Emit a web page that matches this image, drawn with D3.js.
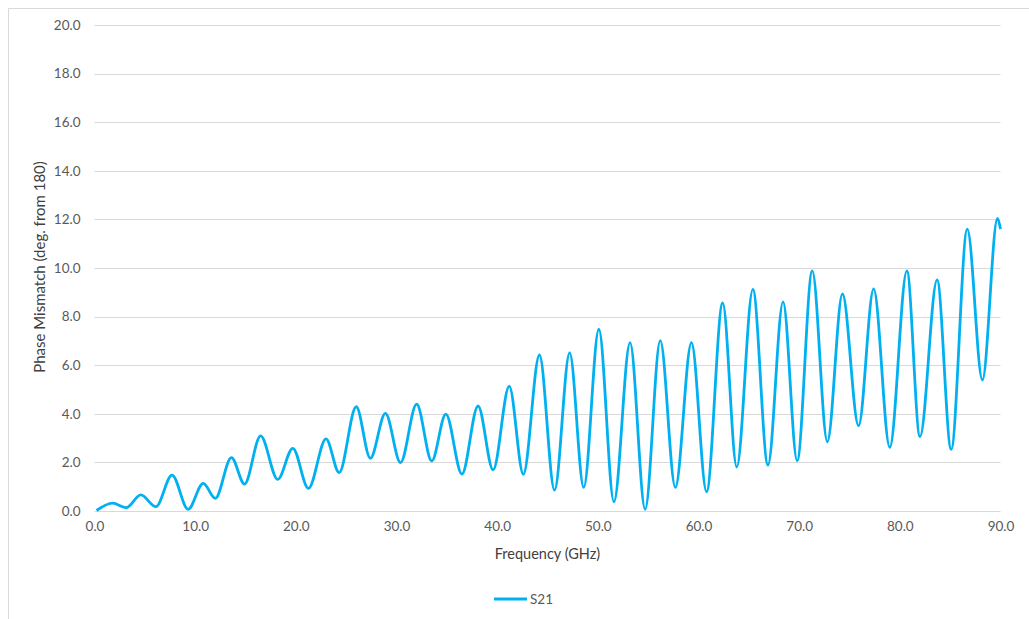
<!DOCTYPE html>
<meta charset="utf-8">
<html>
  <head>
    <script src="https://cdn.jsdelivr.net/npm/d3@7"></script>
    <style>
      body { margin: 0; background: #fff; }
      text { font-family: Lato, "Open Sans", sans-serif; }
    </style>
  </head>
  <body>
    <div id="chart"></div>

    <script type="text/javascript">
      // S21 phase mismatch at each ripple peak / trough
      var freqGHz = [0.2, 1.8, 3.15, 4.6, 6.1, 7.7, 9.3, 10.8, 12.0, 13.6, 14.9, 16.5, 18.2, 19.7, 21.25,
                     23.0, 24.3, 26.0, 27.4, 28.9, 30.4, 32.0, 33.5, 34.9, 36.5, 38.1, 39.6, 41.2, 42.6,
                     44.2, 45.7, 47.2, 48.6, 50.1, 51.6, 53.2, 54.7, 56.2, 57.7, 59.3, 60.8, 62.4, 63.8,
                     65.4, 66.9, 68.4, 69.8, 71.3, 72.8, 74.3, 75.9, 77.4, 79.0, 80.7, 82.0, 83.7, 85.1,
                     86.7, 88.2, 89.7, 90.0];
      var s21 = [0.02, 0.32, 0.14, 0.66, 0.18, 1.48, 0.07, 1.14, 0.52, 2.2, 1.11, 3.09, 1.30, 2.58, 0.93,
                 2.97, 1.58, 4.29, 2.17, 4.02, 1.99, 4.40, 2.06, 3.99, 1.52, 4.32, 1.69, 5.14, 1.51,
                 6.42, 0.86, 6.51, 0.97, 7.48, 0.38, 6.93, 0.07, 7.01, 0.97, 6.93, 0.79, 8.56, 1.81,
                 9.12, 1.89, 8.61, 2.07, 9.88, 2.85, 8.93, 3.51, 9.14, 2.62, 9.88, 3.06, 9.51, 2.54,
                 11.6, 5.39, 12.04, 11.6];
      var xTicks = [0, 10, 20, 30, 40, 50, 60, 70, 80, 90];
      var yTicks = [0, 2, 4, 6, 8, 10, 12, 14, 16, 18, 20];
      var seriesName = "S21";

      var data = freqGHz.map(function(f, i) { return { f: f, v: s21[i] }; });

      var W = 1029, H = 619;
      var plotLeft = 94.5, plotRight = 1000.5, plotTop = 25, plotBottom = 511;

      var svg = d3.select("#chart").append("svg")
          .attr("width", W)
          .attr("height", H);

      // chart frame (cropped on the right and bottom like the screenshot)
      svg.append("path")
          .attr("d", "M8.5," + H + "V8.5H" + W)
          .style("fill", "none")
          .style("stroke", "#d9d9d9")
          .style("stroke-width", 1);

      var x = d3.scaleLinear().domain([0, 90]).range([plotLeft, plotRight]);
      var y = d3.scaleLinear().domain([0, 20]).range([plotBottom, plotTop]);

      // gridlines
      svg.append("g")
          .selectAll("line")
          .data(yTicks)
          .enter().append("line")
            .attr("x1", plotLeft)
            .attr("x2", plotRight)
            .attr("y1", function(d) { return Math.round(y(d)) + 0.5; })
            .attr("y2", function(d) { return Math.round(y(d)) + 0.5; })
            .style("stroke", "#d9d9d9")
            .style("stroke-width", 1);

      var yAxis = svg.append("g")
          .attr("transform", "translate(" + plotLeft + ",0)")
          .call(d3.axisLeft(y).tickValues(yTicks).tickSize(0).tickPadding(14).tickFormat(d3.format(".1f")));
      yAxis.select(".domain").remove();
      yAxis.selectAll("text")
          .style("font-size", "13.5px")
          .style("fill", "#595959")
          .style("font-family", "Lato, 'Open Sans', sans-serif");

      var xAxis = svg.append("g")
          .attr("transform", "translate(0," + plotBottom + ")")
          .call(d3.axisBottom(x).tickValues(xTicks).tickSize(0).tickPadding(10).tickFormat(d3.format(".1f")));
      xAxis.select(".domain").remove();
      xAxis.selectAll("text")
          .style("font-size", "13.5px")
          .style("fill", "#595959")
          .style("font-family", "Lato, 'Open Sans', sans-serif");

      svg.append("text")
          .text("Frequency (GHz)")
          .attr("x", (plotLeft + plotRight) / 2)
          .attr("y", 559)
          .style("text-anchor", "middle")
          .style("font-size", "14.5px")
          .style("fill", "#404040");

      svg.append("text")
          .text("Phase Mismatch (deg. from 180)")
          .attr("transform", "translate(45," + 267 + ") rotate(-90)")
          .style("text-anchor", "middle")
          .style("font-size", "15px")
          .style("fill", "#404040");

      var line = d3.line()
          .x(function(d) { return x(d.f); })
          .y(function(d) { return y(d.v); })
          .curve(d3.curveMonotoneX);

      svg.append("path")
          .datum(data)
          .attr("d", line)
          .style("fill", "none")
          .style("stroke", "#00b0f0")
          .style("stroke-width", 2.8)
          .style("stroke-linejoin", "round");

      // legend
      var lg = svg.append("g").attr("transform", "translate(494,599)");
      lg.append("line")
          .attr("x1", 0).attr("x2", 33)
          .style("stroke", "#00b0f0")
          .style("stroke-width", 2.8);
      lg.append("text")
          .text(seriesName)
          .attr("x", 36)
          .attr("dy", "0.35em")
          .style("font-size", "13.5px")
          .style("fill", "#595959");
    </script>
  </body>
</html>
